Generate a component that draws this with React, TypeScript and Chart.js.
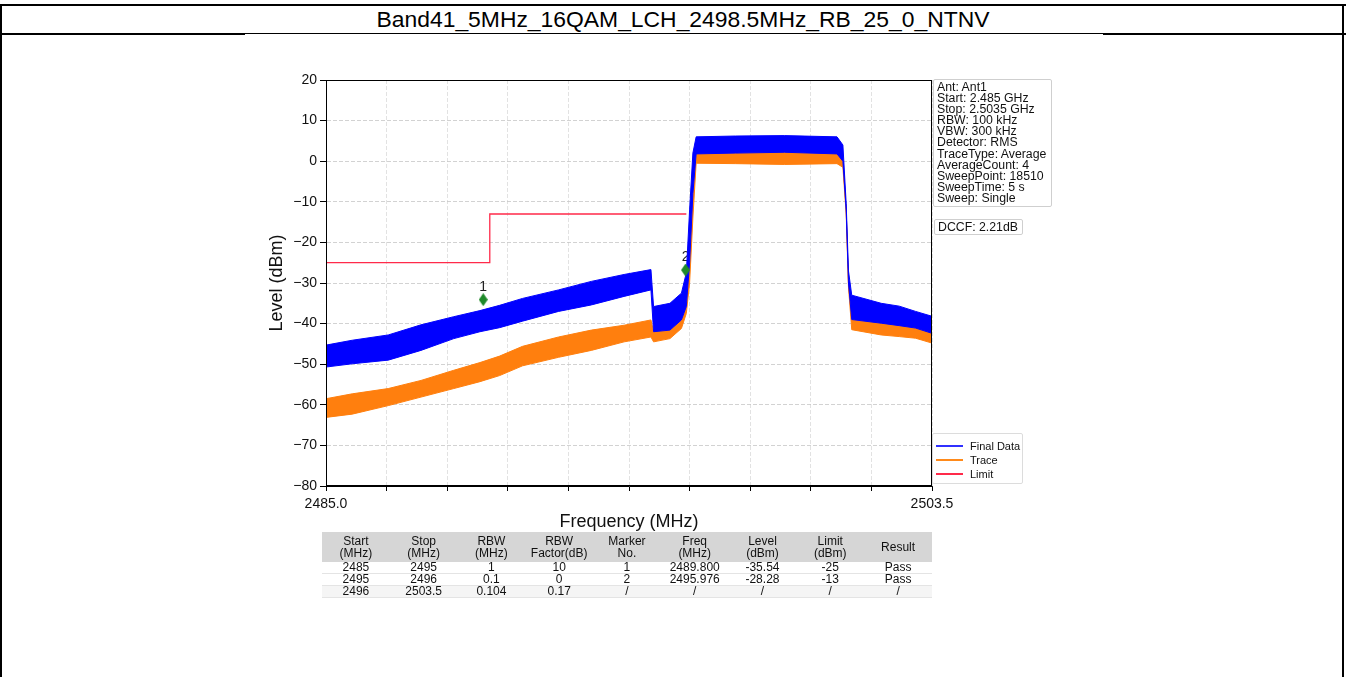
import React, { useEffect, useRef } from 'react';
import { Chart, registerables } from 'chart.js';

Chart.register(...registerables);

const TITLE = 'Band41_5MHz_16QAM_LCH_2498.5MHz_RB_25_0_NTNV';
const X_MIN = 2485.0;
const X_MAX = 2503.5;
const X_TICKS = [2485.0, 2486.85, 2488.7, 2490.55, 2492.4, 2494.25, 2496.1, 2497.95, 2499.8, 2501.65, 2503.5];
const X_TICK_LABELS = ['2485.0', '', '', '', '', '', '', '', '', '', '2503.5'];
const Y_MIN = -80;
const Y_MAX = 20;

// envelope of the traces (MHz / dBm)
const freqs = [2485.0, 2485.8, 2486.9, 2487.9, 2488.9, 2489.7, 2490.3, 2491.0, 2492.1, 2493.1, 2494.1, 2494.92, 2495.0, 2495.5, 2495.85, 2496.0, 2496.1, 2496.2, 2496.3, 2497.5, 2499.0, 2500.6, 2500.78, 2500.88, 2500.95, 2501.05, 2501.95, 2502.5, 2503.0, 2503.5];
const finalUpper = [-45.3, -44.1, -42.8, -40.3, -38.3, -36.8, -35.5, -33.8, -31.7, -29.6, -27.9, -26.7, -35.8, -35.0, -32.5, -27.5, -12, 2, 6.0, 6.2, 6.3, 6.0, 4, -10.4, -27, -33.0, -35.0, -35.7, -37.0, -38.2];
const finalLower = [-50.7, -49.9, -49.0, -46.6, -43.7, -42.0, -41.0, -39.4, -37.0, -35.4, -33.3, -31.7, -42.0, -41.6, -39.1, -35.8, -25, -8, 1.8, 2.0, 2.2, 1.8, 0, -12, -30, -39.0, -39.9, -40.5, -41.1, -42.4];
const traceUpper = [-58.5, -57.3, -56.0, -54.0, -51.5, -49.6, -48.0, -45.6, -43.3, -41.6, -40.4, -39.1, -42.0, -41.6, -39.1, -35.8, -26, -9, 1.8, 2.0, 2.2, 1.8, 0, -12, -30, -39.0, -39.9, -40.5, -41.1, -42.4];
const traceLower = [-63.1, -62.3, -60.2, -58.1, -56.0, -54.3, -52.8, -50.4, -48.3, -46.6, -44.5, -43.3, -44.5, -43.7, -41.2, -37.5, -30, -14, -0.5, -0.6, -0.8, -0.6, -1.5, -13, -31, -41.5, -42.8, -43.2, -43.6, -44.8];

const limitFreqs = [2485.0, 2490.0, 2490.0, 2496.0];
const limitLevels = [-25, -25, -13, -13];

const markerNos = ['1', '2'];
const markerFreqs = [2489.8, 2495.976];
const markerLevels = [-34.1, -26.8];

const infoLines = [
  'Ant: Ant1',
  'Start: 2.485 GHz',
  'Stop: 2.5035 GHz',
  'RBW: 100 kHz',
  'VBW: 300 kHz',
  'Detector: RMS',
  'TraceType: Average',
  'AverageCount: 4',
  'SweepPoint: 18510',
  'SweepTime: 5 s',
  'Sweep: Single',
];
const DCCF_TEXT = 'DCCF: 2.21dB';

const legendLabels = ['Final Data', 'Trace', 'Limit'];

const tableHeader = [
  ['Start', '(MHz)'],
  ['Stop', '(MHz)'],
  ['RBW', '(MHz)'],
  ['RBW', 'Factor(dB)'],
  ['Marker', 'No.'],
  ['Freq', '(MHz)'],
  ['Level', '(dBm)'],
  ['Limit', '(dBm)'],
  ['Result'],
];
const tableRows = [
  ['2485', '2495', '1', '10', '1', '2489.800', '-35.54', '-25', 'Pass'],
  ['2495', '2496', '0.1', '0', '2', '2495.976', '-28.28', '-13', 'Pass'],
  ['2496', '2503.5', '0.104', '0.17', '/', '/', '/', '/', '/'],
];

const BLUE = '#0000ff';
const ORANGE = '#ff7f0e';
const RED = '#ff2a4a';
const GREEN = '#1f8a2a';
const FONT = '"Liberation Sans", Arial, sans-serif';

const pts = (xs: number[], ys: number[]) => xs.map((x, i) => ({ x, y: ys[i] }));

export default function App() {
  const ref = useRef<HTMLCanvasElement | null>(null);

  useEffect(() => {
    if (!ref.current) return;
    const dia = document.createElement('canvas');
    dia.width = 9;
    dia.height = 13;
    const dctx = dia.getContext('2d')!;
    dctx.fillStyle = GREEN;
    dctx.beginPath();
    dctx.moveTo(4.5, 0);
    dctx.lineTo(9, 6.5);
    dctx.lineTo(4.5, 13);
    dctx.lineTo(0, 6.5);
    dctx.closePath();
    dctx.fill();

    const framePlugin = {
      id: 'frame',
      afterDatasetsDraw(chart: any) {
        const { ctx, chartArea: a } = chart;
        ctx.save();
        ctx.strokeStyle = '#000';
        ctx.lineWidth = 1;
        ctx.strokeRect(Math.round(a.left) + 0.5, Math.round(a.top) + 0.5, Math.round(a.right - a.left) - 1, Math.round(a.bottom - a.top) - 1);
        ctx.restore();
      },
    };
    const markerLabelPlugin = {
      id: 'markerLabels',
      beforeDatasetsDraw(chart: any) {
        const { ctx, scales } = chart;
        ctx.save();
        ctx.font = `14px ${FONT}`;
        ctx.fillStyle = '#222';
        ctx.textAlign = 'center';
        ctx.textBaseline = 'middle';
        markerNos.forEach((n, i) => {
          const x = scales.x.getPixelForValue(markerFreqs[i]);
          const y = scales.y.getPixelForValue(markerLevels[i]);
          ctx.fillText(n, x, y - 13);
        });
        ctx.restore();
      },
    };

    const chart = new Chart(ref.current, {
      type: 'line',
      data: {
        datasets: [
          { label: 'Final Data low', data: pts(freqs, finalLower), borderColor: BLUE, backgroundColor: BLUE, borderWidth: 1, pointRadius: 0, fill: false, order: 1 },
          { label: 'Final Data', data: pts(freqs, finalUpper), borderColor: BLUE, backgroundColor: BLUE, borderWidth: 1, pointRadius: 0, fill: '-1', order: 1 },
          { label: 'Trace low', data: pts(freqs, traceLower), borderColor: ORANGE, backgroundColor: ORANGE, borderWidth: 1, pointRadius: 0, fill: false, order: 2 },
          { label: 'Trace', data: pts(freqs, traceUpper), borderColor: ORANGE, backgroundColor: ORANGE, borderWidth: 1, pointRadius: 0, fill: '-1', order: 2 },
          { label: 'Limit', data: pts(limitFreqs, limitLevels), borderColor: RED, borderWidth: 1.3, pointRadius: 0, fill: false, order: 0 },
          { label: 'Marker', data: pts(markerFreqs, markerLevels), showLine: false, pointStyle: dia as any, pointRadius: 6, order: -1 },
        ] as any,
      },
      options: {
        animation: false,
        responsive: false,
        events: [],
        layout: { padding: { left: 266, right: 414, top: 80, bottom: 141 } },
        plugins: { legend: { display: false }, tooltip: { enabled: false } },
        scales: {
          x: {
            type: 'linear',
            min: X_MIN,
            max: X_MAX,
            afterBuildTicks: (axis: any) => {
              axis.ticks = X_TICKS.map((v) => ({ value: v }));
            },
            afterFit: (s: any) => {
              s.height = 50;
            },
            ticks: {
              autoSkip: false,
              maxRotation: 0,
              padding: 5,
              color: '#111',
              font: { family: FONT, size: 14 },
              callback: (_v: any, i: number) => X_TICK_LABELS[i],
            },
            grid: { color: '#dadada', lineWidth: 0.8, tickColor: '#000', tickLength: 5, tickWidth: 1, tickBorderDash: [] },
            border: { display: true, color: '#000', width: 1, dash: [4, 2] },
            title: { display: true, text: 'Frequency (MHz)', color: '#111', font: { family: FONT, size: 18 }, padding: { top: 0, bottom: 3 } },
          },
          y: {
            type: 'linear',
            min: Y_MIN,
            max: Y_MAX,
            afterFit: (s: any) => {
              s.width = 60;
            },
            ticks: {
              stepSize: 10,
              padding: 3,
              color: '#111',
              font: { family: FONT, size: 14 },
              callback: (v: any) => (Number(v) < 0 ? '\u2212' + Math.abs(Number(v)) : String(v)),
            },
            grid: { color: '#c6c6c6', lineWidth: 0.8, tickColor: '#000', tickLength: 6, tickWidth: 1, tickBorderDash: [] },
            border: { display: true, color: '#000', width: 1, dash: [4, 2] },
            title: { display: true, text: 'Level (dBm)', color: '#111', font: { family: FONT, size: 18 }, padding: { top: 0, bottom: 0 } },
          },
        },
      } as any,
      plugins: [framePlugin, markerLabelPlugin],
    });
    return () => chart.destroy();
  }, []);

  const abs = (s: React.CSSProperties): React.CSSProperties => ({ position: 'absolute', ...s });
  const colW = 610 / 9;

  return (
    <div style={{ position: 'fixed', left: 0, top: 0, width: 1346, height: 677, background: '#fff', overflow: 'hidden', fontFamily: FONT }}>
      <div style={abs({ left: 0, top: 4, width: 1346, height: 2, background: '#000' })} />
      <div style={abs({ left: 0, top: 33, width: 1346, height: 2, background: '#000' })} />
      <div style={abs({ left: 245, top: 34, width: 858, height: 1, background: '#fff' })} />
      <div style={abs({ left: 0, top: 4, width: 2, height: 673, background: '#000' })} />
      <div style={abs({ left: 1342, top: 4, width: 2, height: 673, background: '#000' })} />
      <div style={abs({ left: 0, top: 6, width: 1346, height: 27, lineHeight: '27px', textAlign: 'center', fontSize: 22, color: '#000', transform: 'translateX(10px) scaleX(1.04)', transformOrigin: '673px 50%' })}>{TITLE}</div>

      <canvas ref={ref} width={1346} height={677} style={abs({ left: 0, top: 0, width: 1346, height: 677 })} />

      <div style={abs({ left: 933, top: 79, width: 117, height: 126, border: '1px solid #cfcfcf', borderRadius: 2, background: 'rgba(255,255,255,0.8)' })} />
      <div style={abs({ left: 937, top: 82, fontSize: 12.3, lineHeight: '11.1px', color: '#111', whiteSpace: 'pre' })}>
        {infoLines.map((l, i) => (
          <div key={i}>{l}</div>
        ))}
      </div>
      <div style={abs({ left: 934, top: 219, width: 84, height: 14, border: '1px solid #cfcfcf', borderRadius: 2, fontSize: 12.3, lineHeight: '14px', paddingLeft: 3, boxSizing: 'content-box', color: '#111' })}>{DCCF_TEXT}</div>

      <div style={abs({ left: 932, top: 433, width: 89, height: 49, border: '1px solid #dcdcdc', borderRadius: 2 })}>
        {legendLabels.map((l, i) => (
          <div key={i} style={abs({ left: 3, top: 5 + i * 14.2, height: 14, width: 90 })}>
            <div style={abs({ left: 0, top: 6, width: 27, height: 1.5, background: ['#3030ff', '#ff8a1a', RED][i] })} />
            <div style={abs({ left: 34, top: 0, fontSize: 11, lineHeight: '14px', color: '#111', whiteSpace: 'pre' })}>{l}</div>
          </div>
        ))}
      </div>

      <table style={abs({ left: 322, top: 532, width: 610, borderCollapse: 'collapse', tableLayout: 'fixed', fontSize: 12, color: '#111', textAlign: 'center' })}>
        <colgroup>
          {tableHeader.map((_, i) => (
            <col key={i} style={{ width: colW }} />
          ))}
        </colgroup>
        <thead>
          <tr style={{ background: '#d6d6d6' }}>
            {tableHeader.map((h, i) => (
              <th key={i} style={{ fontWeight: 'normal', padding: '1px 0 2px 0', lineHeight: '12px', height: 27 }}>
                {h.map((t, j) => (
                  <div key={j}>{t}</div>
                ))}
              </th>
            ))}
          </tr>
        </thead>
        <tbody>
          {tableRows.map((r, i) => (
            <tr key={i} style={{ background: i === 2 ? '#f5f5f5' : '#fff', borderBottom: '1px solid #e4e4e4' }}>
              {r.map((c, j) => (
                <td key={j} style={{ padding: 0, lineHeight: '11px', height: 11 }}>{c}</td>
              ))}
            </tr>
          ))}
        </tbody>
      </table>
    </div>
  );
}
